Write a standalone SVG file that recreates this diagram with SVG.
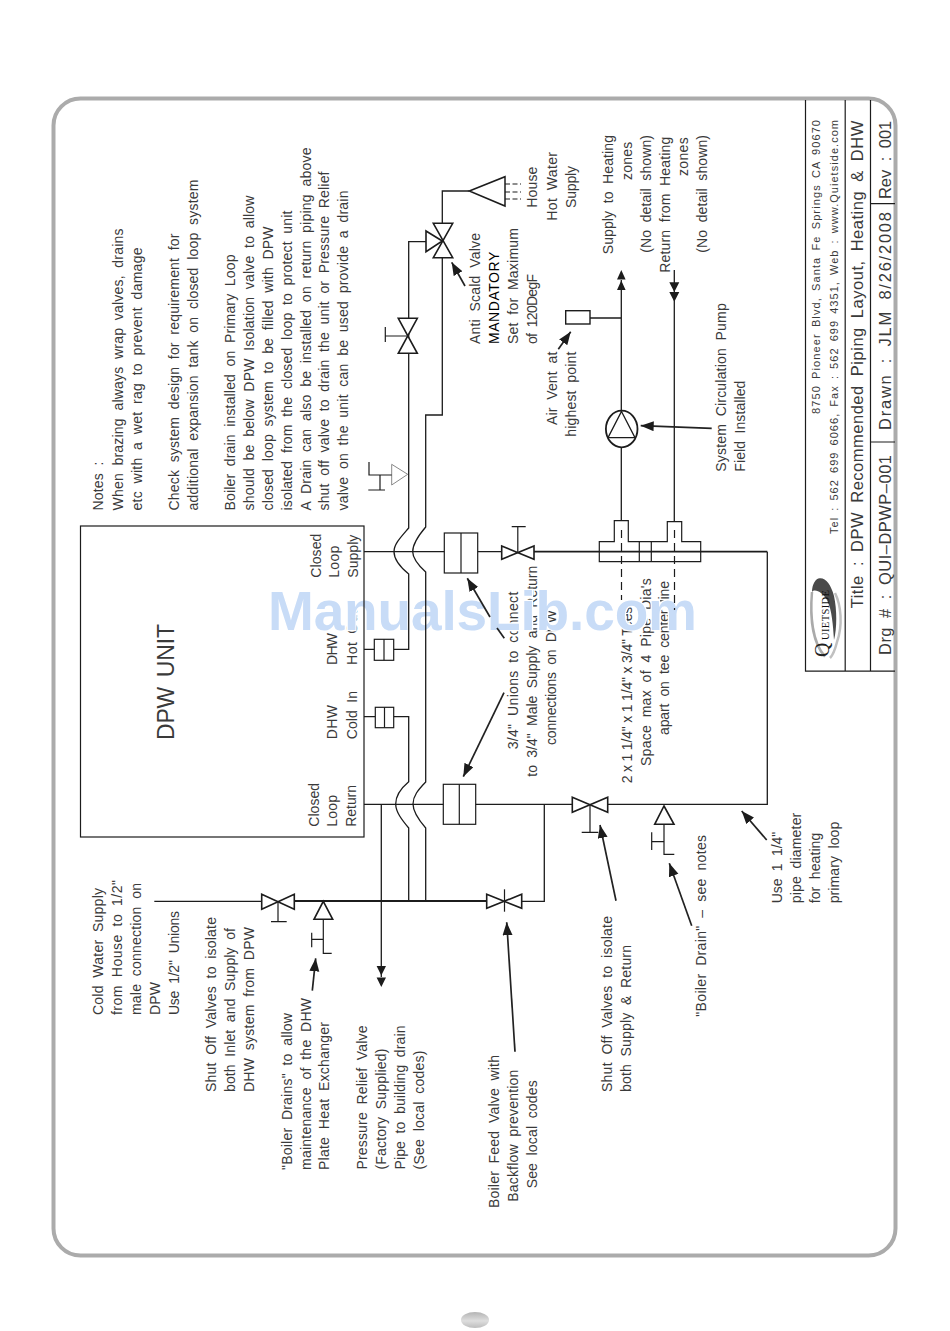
<svg xmlns="http://www.w3.org/2000/svg" width="950" height="1331" viewBox="0 0 950 1331">
<style>
text{font-family:"Liberation Sans",Arial,sans-serif;fill:#3a3a3a;font-size:14px;word-spacing:3.5px}
.s{font-size:11px;word-spacing:2px}
.h{font-size:16.5px;word-spacing:4px}
.b{font-size:23px}
.n{fill:none;stroke:#1c1c1c;stroke-width:1.2}
.v{fill:#fff;stroke:#1c1c1c;stroke-width:1.6}
.w{fill:#fff;stroke:#1c1c1c;stroke-width:1.2}
.p{fill:none;stroke:#1c1c1c;stroke-width:1.3}
.k{fill:none;stroke:#1c1c1c;stroke-width:1.8}
.a{fill:none;stroke:#222;stroke-width:1.7;marker-end:url(#head)}
.d{fill:#1c1c1c;stroke:none}
</style>
<defs>
<marker id="head" markerUnits="userSpaceOnUse" markerWidth="14" markerHeight="11" refX="13" refY="5" orient="auto"><path d="M0,0L13,5L0,10z" fill="#1c1c1c"/></marker>
<linearGradient id="oval" x1="0" y1="0" x2="0" y2="1"><stop offset="0" stop-color="#b4b4b4"/><stop offset=".55" stop-color="#dedede"/><stop offset="1" stop-color="#bdbdbd"/></linearGradient>
</defs>
<rect width="950" height="1331" fill="#fff"/>
<rect id="frame" x="53.5" y="98.5" width="842" height="1157" rx="27" fill="#fff" stroke="#ababab" stroke-width="4"/>
<ellipse id="page-oval" cx="475" cy="1320" rx="14" ry="8" fill="url(#oval)"/>

<g id="labels">
<g id="notes">
<text transform="translate(103,510.5) rotate(-90)" textLength="49">Notes :</text>
<text transform="translate(122.5,510.5) rotate(-90)" textLength="282">When brazing always wrap valves, drains</text>
<text transform="translate(141.5,510.5) rotate(-90)" textLength="263">etc with a wet rag to prevent damage</text>
<text transform="translate(179,510.5) rotate(-90)" textLength="277">Check system design for requirement for</text>
<text transform="translate(197.7,510.5) rotate(-90)" textLength="331">additional expansion tank on closed loop system</text>
<text transform="translate(235,510.5) rotate(-90)" textLength="256">Boiler drain installed on Primary Loop</text>
<text transform="translate(254,510.5) rotate(-90)" textLength="315">should be below DPW Isolation valve to allow</text>
<text transform="translate(273,510.5) rotate(-90)" textLength="284">closed loop system to be filled with DPW</text>
<text transform="translate(291.7,510.5) rotate(-90)" textLength="300">isolated from the closed loop to protect unit</text>
<text transform="translate(310.7,510.5) rotate(-90)" textLength="363">A Drain can also be installed on return piping above</text>
<text transform="translate(329,510.5) rotate(-90)" textLength="339">shut off valve to drain the unit or Pressure Relief</text>
<text transform="translate(348,510.5) rotate(-90)" textLength="320">valve on the unit can be used provide a drain</text>
</g>
<g id="label-cold-water">
<text transform="translate(103,1015) rotate(-90)" textLength="127">Cold Water Supply</text>
<text transform="translate(122.3,1015) rotate(-90)" textLength="135">from House to 1/2"</text>
<text transform="translate(141,1015) rotate(-90)" textLength="132">male connection on</text>
<text transform="translate(160,1015) rotate(-90)" textLength="33">DPW</text>
<text transform="translate(179,1015) rotate(-90)" textLength="104">Use 1/2" Unions</text>
</g>
<g id="label-shutoff-dhw">
<text transform="translate(216,1092) rotate(-90)" textLength="175">Shut Off Valves to isolate</text>
<text transform="translate(235,1092) rotate(-90)" textLength="164">both Inlet and Supply of</text>
<text transform="translate(254,1092) rotate(-90)" textLength="165">DHW system from DPW</text>
</g>
<g id="label-boiler-drains">
<text transform="translate(291.7,1170) rotate(-90)" textLength="157">"Boiler Drains" to allow</text>
<text transform="translate(310.7,1170) rotate(-90)" textLength="172">maintenance of the DHW</text>
<text transform="translate(329.3,1170) rotate(-90)" textLength="148">Plate Heat Exchanger</text>
</g>
<g id="label-relief">
<text transform="translate(367.3,1169.5) rotate(-90)" textLength="144">Pressure Relief Valve</text>
<text transform="translate(386,1169.5) rotate(-90)" textLength="121">(Factory Supplied)</text>
<text transform="translate(405,1169.5) rotate(-90)" textLength="144">Pipe to building drain</text>
<text transform="translate(424,1169.5) rotate(-90)" textLength="119">(See local codes)</text>
</g>
<g id="label-feed">
<text transform="translate(499.3,1208) rotate(-90)" textLength="153">Boiler Feed Valve with</text>
<text transform="translate(518.3,1201.7) rotate(-90)" textLength="132">Backflow prevention</text>
<text transform="translate(537.3,1188.3) rotate(-90)" textLength="108">See local codes</text>
</g>
<g id="label-shutoff-loop">
<text transform="translate(612,1092) rotate(-90)" textLength="176">Shut Off Valves to isolate</text>
<text transform="translate(631,1092) rotate(-90)" textLength="147">both Supply &amp; Return</text>
</g>
<text id="label-boiler-drain" transform="translate(706,1016.7) rotate(-90)" textLength="181.7">"Boiler Drain" – see notes</text>
<g id="label-pipe-dia">
<text transform="translate(781.7,903.3) rotate(-90)" textLength="71.6">Use 1 1/4"</text>
<text transform="translate(800.7,903.3) rotate(-90)" textLength="90.6">pipe diameter</text>
<text transform="translate(820,903.3) rotate(-90)" textLength="70.6">for heating</text>
<text transform="translate(839,903.3) rotate(-90)" textLength="81.6">primary loop</text>
</g>
<g id="label-unions">
<text transform="translate(517.7,749.3) rotate(-90)" textLength="157.6">3/4" Unions to connect</text>
<text transform="translate(536.7,776.7) rotate(-90)" textLength="211">to 3/4" Male Supply and Return</text>
<text transform="translate(555.7,745) rotate(-90)" textLength="135">connections on DPW</text>
</g>
<g id="label-tees">
<text style="word-spacing:0" transform="translate(631.7,783.3) rotate(-90)" textLength="176.6">2 x 1 1/4" x 1 1/4" x 3/4" Tees</text>
<text transform="translate(650.7,766) rotate(-90)" textLength="187.7">Space max of 4 Pipe Dia's</text>
<text transform="translate(669.3,735) rotate(-90)" textLength="154">apart on tee center line</text>
</g>
<g id="label-scald">
<text transform="translate(480,344) rotate(-90)" textLength="111">Anti Scald Valve</text>
<text style="fill:#000" transform="translate(499.3,344) rotate(-90)" textLength="92.3">MANDATORY</text>
<text transform="translate(518.3,344) rotate(-90)" textLength="116">Set for Maximum</text>
<text transform="translate(537.3,344) rotate(-90)" textLength="70">of 120DegF</text>
</g>
<g id="label-hot-water">
<text transform="translate(537.3,207.7) rotate(-90)" textLength="41">House</text>
<text transform="translate(556.7,220.7) rotate(-90)" textLength="68.7">Hot Water</text>
<text transform="translate(575.7,208) rotate(-90)" textLength="42">Supply</text>
</g>
<g id="label-air-vent">
<text transform="translate(556.7,425) rotate(-90)" textLength="73.3">Air Vent at</text>
<text transform="translate(575.7,436.7) rotate(-90)" textLength="85">highest point</text>
</g>
<g id="label-zones">
<text transform="translate(613.3,254.3) rotate(-90)" textLength="119.3">Supply to Heating</text>
<text transform="translate(631.7,180) rotate(-90)" textLength="38.3">zones</text>
<text transform="translate(650.7,252.7) rotate(-90)" textLength="117.7">(No detail shown)</text>
<text transform="translate(670,272.7) rotate(-90)" textLength="136">Return from Heating</text>
<text transform="translate(688.3,176) rotate(-90)" textLength="38.7">zones</text>
<text transform="translate(707.3,252.7) rotate(-90)" textLength="117.7">(No detail shown)</text>
</g>
<g id="label-pump">
<text transform="translate(725.7,471.7) rotate(-90)" textLength="168.4">System Circulation Pump</text>
<text transform="translate(745,471.7) rotate(-90)" textLength="91">Field Installed</text>
</g>
<g id="label-ports">
<text transform="translate(320.5,577.7) rotate(-90)" textLength="44">Closed</text>
<text transform="translate(339,577.7) rotate(-90)" textLength="32">Loop</text>
<text transform="translate(357.5,577.7) rotate(-90)" textLength="43">Supply</text>
<text transform="translate(337.3,665) rotate(-90)" textLength="32">DHW</text>
<text transform="translate(356.7,665) rotate(-90)" textLength="55">Hot Out</text>
<text transform="translate(337.3,739.3) rotate(-90)" textLength="34.3">DHW</text>
<text transform="translate(356.7,739.3) rotate(-90)" textLength="48.3">Cold In</text>
<text transform="translate(318.5,826.7) rotate(-90)" textLength="43.7">Closed</text>
<text transform="translate(337.3,826.7) rotate(-90)" textLength="31.7">Loop</text>
<text transform="translate(356,826.7) rotate(-90)" textLength="41.7">Return</text>
</g>
</g>

<text id="watermark" x="268" y="630" textLength="429" style="font-family:'Liberation Sans',sans-serif;font-weight:bold;font-size:55px;fill:#c8dcf7;stroke:#fff;stroke-width:2.5px;paint-order:stroke;word-spacing:0">ManualsLib.com</text>

<g id="title-block">
<path class="n" d="M805.5,100V671.2H895M845.2,100V671.2M870.5,100V671.2M870.5,203.7H895M870.5,442H895"/>
<text class="s" transform="translate(820,414) rotate(-90)" textLength="294">8750 Pioneer Blvd, Santa Fe Springs CA 90670</text>
<text class="s" transform="translate(838.3,534) rotate(-90)" textLength="414">Tel : 562 699 6066, Fax : 562 699 4351, Web : www.Quietside.com</text>
<text class="h" transform="translate(863.2,608.3) rotate(-90)" textLength="487.6">Title : DPW Recommended Piping Layout, Heating &amp; DHW</text>
<text class="h" transform="translate(890.5,655) rotate(-90)" textLength="200">Drg # : QUI–DPWP–001</text>
<text class="h" transform="translate(890.5,430) rotate(-90)" textLength="218">Drawn : JLM 8/26/2008</text>
<text class="h" transform="translate(890.5,199) rotate(-90)" textLength="78.3">Rev : 001</text>
<g id="logo">
<path d="M812,592C812,584 816,578 820,578.3C826,578 831,585 834,596C837,610 837,628 834,640C833,625 832,610 827,600C823,593 815,588 812,592z" fill="#4a4a4a"/>
<path d="M812,592C810,615 812,642 825,656.7" fill="none" stroke="#aaa" stroke-width="2.5"/>
<path d="M835,593C841,605 843,625 837,642C835,650 833,655 830,658" fill="none" stroke="#c0c0c0" stroke-width="2.5"/>
<text transform="translate(828.5,657) rotate(-90)" style="font-family:'Liberation Serif',serif;font-size:20px;fill:#222;word-spacing:0">Q</text>
<text transform="translate(829.3,640) rotate(-90)" textLength="50" style="font-family:'Liberation Serif',serif;font-size:10.5px;fill:#111;word-spacing:0">UIETSIDE</text>
</g>
</g>

<g id="dpw-unit">
<rect class="n" x="80.5" y="526" width="283.5" height="311"/>
<text class="b" transform="translate(174.3,740) rotate(-90)" textLength="116">DPW UNIT</text>
</g>

<g id="connectors">
<path class="p" d="M364,551.7H444.3M477.7,551.7H501.7"/>
<path class="k" d="M534,551.7H767.3"/>
<path class="p" d="M767.3,551.7V804.3H607.7M572.3,804.3H475.7M443.3,804.3H364"/>
<path class="p" d="M364,649.3H374.3M393.7,649.3H408.7V574C399,566 394,558 394,551.7C394,544 401,537 408.7,528V318.3M408.7,353.3V336M408.7,318.3V241.7H426"/>
<path class="p" d="M425.7,900V828C417,818 413,811 413,804C413,796 418,790 425.7,782V572C417,564 412.7,558 412.7,551.7C412.7,544 418,536 425.7,527V415H442.3V257.7"/>
<path class="p" d="M364,716.7H375.3M393.7,716.7H408.7V781.7C400,789 395.7,797 395.7,804C395.7,812 402,820 408.7,828V900"/>
<path class="p" d="M442.3,223.3V191H469.3"/>
<path class="p" d="M154.3,901.3H261.7"/>
<path class="k" d="M294.3,901H486.7"/>
<path class="p" d="M521.7,901.3H544.3V804.3"/>
<path class="p" d="M381.3,804.3V977"/>
<path class="p" d="M621.3,520.7V447M621.3,411.7V280M590,318H621.3"/>
<path class="p" d="M674.3,521.7V270"/>
<path class="n" stroke-dasharray="8 5" d="M621.5,530V600M674.5,530V610"/>
<path class="n" stroke-dasharray="5 2.5" d="M505,184H521M505,192H521M505,199H521"/>
<path class="d" d="M621.3,270l4.3,9.5h-8.6zM621.3,280.5l4.3,9.5h-8.6z"/>
<path class="d" d="M674.3,292l-5,-9.7h10zM674.3,301.7l-5,-9.7h10z"/>
<path class="d" d="M381.3,975.5l-4.7,-9.5h9.4zM381.3,987l-4.7,-9.5h9.4z"/>
<path class="a" d="M465,286L451.7,262.3"/>
<path class="a" d="M558.3,349.3L570.7,331.7"/>
<path class="a" d="M711.7,428.3L640.7,425.7"/>
<path class="a" d="M490,617L467.3,578.3"/>
<path class="a" style="marker-end:none" d="M497,628L504.3,638.3"/>
<path class="a" d="M504,692.7L463.3,776.7"/>
<path class="a" d="M766.7,840L741.7,811"/>
<path class="a" d="M616,900.7L600,825"/>
<path class="a" d="M691.7,925.7L669.3,863.3"/>
<path class="a" d="M312.3,990.7L315.7,958.3"/>
<path class="a" d="M515,1051.7L506.7,922.3"/>
</g>

<g id="union-supply"><rect class="n" x="444.3" y="533" width="33.4" height="40"/><path class="n" d="M461,533V573"/></g>
<g id="union-return"><rect class="n" x="443.3" y="784.3" width="32.4" height="40"/><path class="n" d="M459.3,784.3V824.3"/></g>
<g id="union-dhw-hot"><rect class="w" x="374.3" y="639.3" width="19.4" height="21"/><path class="n" d="M384,639.3V660.3"/></g>
<g id="union-dhw-cold"><rect class="w" x="375.3" y="707.3" width="18.4" height="20.4"/><path class="n" d="M384.5,707.3V727.7"/></g>

<g id="valve-supply"><path class="v" d="M501.7,546L534,559.3V546L501.7,559.3z"/><path class="n" d="M517.8,552.6V526.7M511.7,526.7H525.7"/></g>
<g id="valve-return"><path class="v" d="M572.3,797.3L607.7,812.3V797.3L572.3,812.3z"/><path class="n" d="M590,804.5V832.3M581.7,832.3H598.3"/></g>
<g id="valve-cold"><path class="v" d="M261.7,894.3L294.3,909.3V894.3L261.7,909.3z"/><path class="n" d="M278,901.6V921.7M271,921.7H286.7"/></g>
<g id="valve-feed"><path class="v" d="M486.7,894.3L521.7,908.3V894.3L486.7,908.3z"/><path class="n" d="M504.5,889.3V911.7"/></g>
<g id="valve-hot"><path class="v" d="M398.3,318.3L417.3,353.3H398.3L417.3,318.3z"/><path class="n" d="M407.8,336H385.3M385.3,327V342"/></g>
<g id="valve-anti-scald"><path class="v" d="M433.3,223.3H452.7L433.3,257.7H452.7z"/><path class="v" d="M442.3,241L426,231V251.7z"/></g>
<g id="outlet-hot-water"><path class="k" style="stroke-width:1.5" d="M469.3,191L505,176.7V206z"/></g>

<g id="pump"><ellipse class="k" cx="621.7" cy="429" rx="15.8" ry="18.3"/><path class="p" d="M621.5,411.5L635,437.7H608z"/></g>
<g id="air-vent"><rect x="565.7" y="310.7" width="24.3" height="13.3" class="k" style="stroke-width:1.4"/></g>

<g id="tees">
<path class="n" d="M599.3,541.7H614.3V520.7H628.3V541.7H667.3V521.7H681.7V541.7H700.7V561.7H599.3zM639.3,541.7V561.7M651.3,541.7V561.7"/>
</g>

<g id="drain-top"><path d="M407.7,474.3L391.7,464.3V485z" fill="#fff" stroke="#888" stroke-width="1"/><path class="n" d="M391.7,475H369V462M380,475V490M368.3,490H385"/></g>
<g id="drain-dhw"><path class="v" d="M323.3,901.3L332.7,919.3H314z"/><path class="n" d="M323.3,919.3V953.3H331.7M323.3,939.3H311.7M311.7,932.7V947.3"/></g>
<g id="drain-loop"><path class="v" d="M664,806L674,824.3H654.7z"/><path class="n" d="M664,824.3V854.3H674.3M664,841.7H651.7M651.7,832.3V850"/></g>
</svg>
